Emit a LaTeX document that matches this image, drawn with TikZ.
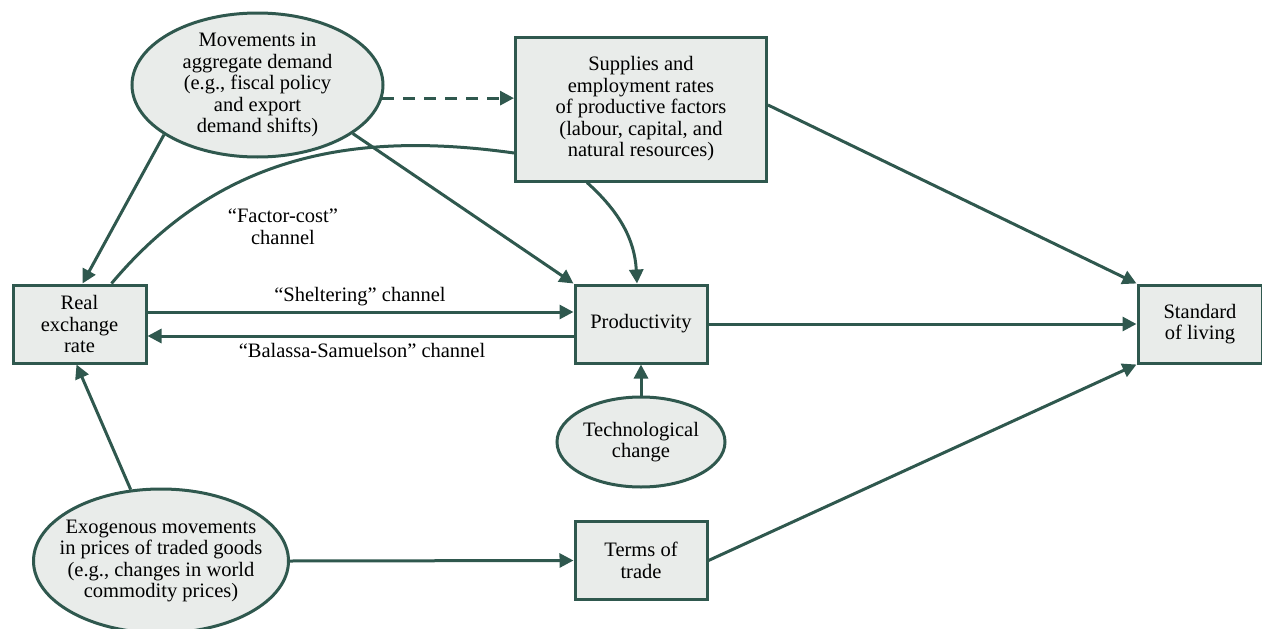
\documentclass[tikz,border=0pt]{standalone}
\usepackage{fontspec}
\setmainfont{Liberation Serif}
\usepackage{xcolor}
\usetikzlibrary{arrows.meta,shapes.geometric}
\definecolor{edgegreen}{RGB}{47,88,78}
\definecolor{boxgrey}{RGB}{233,236,234}

\begin{document}
\begin{tikzpicture}[x=1pt,y=-1pt,
  txt/.style={font=\fontsize{20.5}{21.5}\selectfont, align=center},
  box/.style={txt, draw=edgegreen, line width=3pt, fill=boxgrey, inner sep=0pt},
  oval/.style={box, ellipse, inner sep=-30pt},
  link/.style={draw=edgegreen, line width=3pt, -{Triangle[length=14pt,width=14pt]}},
  plain/.style={draw=edgegreen, line width=3pt}]
\useasboundingbox (0,0) rectangle (1262,629);

% Ovals
\node [oval, minimum width=251pt, minimum height=144pt] (demand) at (257.5,85) {Movements in\\aggregate demand\\(e.g., fiscal policy\\and export\\demand shifts)};
\node [oval, minimum width=168pt, minimum height=90pt] (tech) at (641,442) {Technological\\change};
\node [oval, minimum width=255pt, minimum height=144pt] (exo) at (161,561) {Exogenous movements\\in prices of traded goods\\(e.g., changes in world\\commodity prices)};

% Boxes
\node [box, minimum width=251pt, minimum height=144pt] (supply) at (641,109) {Supplies and\\employment rates\\of productive factors\\(labour, capital, and\\natural resources)};
\node [box, minimum width=133pt, minimum height=78pt] (rer) at (79.5,324) {Real\\exchange\\rate};
\node [box, minimum width=132pt, minimum height=78pt] (prod) at (641,324) {Productivity};
\node [box, minimum width=124pt, minimum height=78pt] (living) at (1200,324) {Standard\\of living};
\node [box, minimum width=132pt, minimum height=78pt] (tot) at (641,560.5) {Terms of\\trade};

% Channel labels
\node [txt] (factorlbl) at (283,227) {“Factor-cost”\\channel};
\node [txt] (shelterlbl) at (360,297) {“Sheltering” channel};
\node [txt] (balassalbl) at (362,350) {“Balassa-Samuelson” channel};

% Connectors
\draw [link, dash pattern=on 12pt off 9pt] (demand.-6) -- (demand.-6 -| supply.west);
\draw [link] (demand.208) -- ([xshift=3pt]rer.north);
\draw [link] (demand.-27) -- (prod.north west);
\draw [plain] ([xshift=32pt]rer.north) to[out=50,in=172] ([yshift=-44pt]supply.west);
\draw [link] ([xshift=-54pt]supply.south) to[out=-42,in=93] ([xshift=-4pt]prod.north);
\draw [link] ([yshift=4pt]supply.east) -- (living.north west);
\draw [link] ([yshift=12pt]rer.east) -- ([yshift=12pt]prod.west);
\draw [link] ([yshift=-12pt]prod.west) -- ([yshift=-12pt]rer.east);
\draw [link] (prod.east) -- (living.west);
\draw [link] (tech.north) -- (prod.south);
\draw [link] (exo.113) -- ([xshift=-3pt]rer.south);
\draw [link] (exo.east) -- (tot.west);
\draw [link] (tot.east) -- (living.south west);

\end{tikzpicture}
\end{document}
